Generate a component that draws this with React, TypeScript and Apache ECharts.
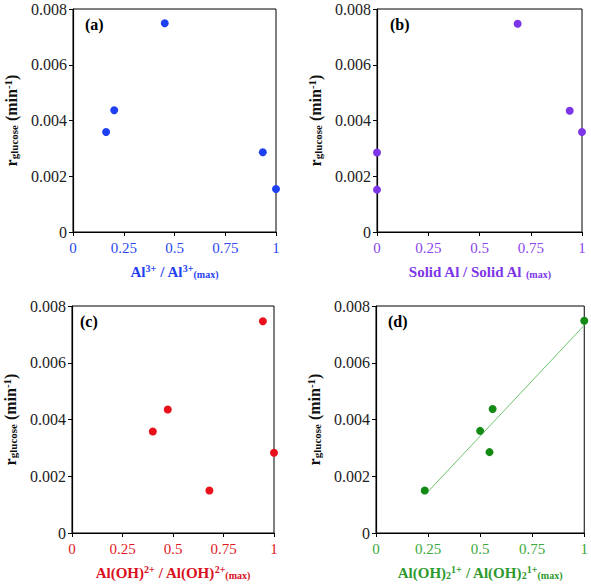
import React, { useEffect, useRef } from "react";
import * as echarts from "echarts";

// ---- data ----
const xTicks = [0, 0.25, 0.5, 0.75, 1];
const yTicks = [0, 0.002, 0.004, 0.006, 0.008];

const aX = [0.163, 0.203, 0.452, 0.935, 1.0];
const aY = [0.00359, 0.00437, 0.00749, 0.00286, 0.00154];

const bX = [0, 0, 0.686, 0.94, 1.0];
const bY = [0.00285, 0.00152, 0.00747, 0.00435, 0.00359];

const cX = [0.4, 0.474, 0.68, 0.945, 1.0];
const cY = [0.00358, 0.00435, 0.0015, 0.00746, 0.00283];

const dX = [0.234, 0.5, 0.545, 0.56, 1.0];
const dY = [0.0015, 0.0036, 0.00285, 0.00437, 0.00748];
const dTrendX = [0.24, 1.0];
const dTrendY = [0.00138, 0.00732];

const panelLabels = ["(a)", "(b)", "(c)", "(d)"];

const FONT = "Liberation Serif";

function richFor(color: string, base: number, small: number) {
  return {
    b: { fontFamily: FONT, fontSize: base, fontWeight: "bold", color, lineHeight: base + 1, verticalAlign: "bottom" },
    sup: { fontFamily: FONT, fontSize: small, fontWeight: "bold", color, lineHeight: small, verticalAlign: "top", padding: [0, 0, 6, 0] },
    sub: { fontFamily: FONT, fontSize: small, fontWeight: "bold", color, lineHeight: small, verticalAlign: "bottom", padding: [6, 0, 0, 0] },
  };
}

export default function App() {
  const ref = useRef<HTMLDivElement>(null);
  useEffect(() => {
    if (!ref.current) return;
    const chart = echarts.init(ref.current, null, { renderer: "svg" });

    const panels = [
      {
        xs: aX, ys: aY, color: "#1f3ff2", tickColor: "#2c48f0", dot: "#1f3ff2",
        grid: { left: 73, top: 9, width: 203, height: 223 },
        xName: "{b|Al}{sup|3+}{b| / Al}{sup|3+}{sub|(max)}",
        label: { x: 85, y: 16 },
      },
      {
        xs: bX, ys: bY, color: "#7d35e8", tickColor: "#8a45ee", dot: "#7d35e8",
        grid: { left: 377, top: 9, width: 205, height: 223 },
        xName: "{b|Solid Al / Solid Al }{sub|(max)}",
        label: { x: 390, y: 16 },
      },
      {
        xs: cX, ys: cY, color: "#d9101e", tickColor: "#e01826", dot: "#e8101a",
        grid: { left: 70, top: 306, width: 204, height: 227 },
        xName: "{b|Al(OH)}{sup|2+}{b| / Al(OH)}{sup|2+}{sub|(max)}",
        label: { x: 80, y: 313 },
      },
      {
        xs: dX, ys: dY, color: "#2c9a2c", tickColor: "#3aa83a", dot: "#138a13",
        grid: { left: 376, top: 306, width: 209, height: 227 },
        xName: "{b|Al(OH)}{sub|2}{sup|1+}{b| / Al(OH)}{sub|2}{sup|1+}{sub|(max)}",
        label: { x: 388, y: 313 },
      },
    ];

    const yName = "{b|r}{sub|glucose}{b| (min}{sup|-1}{b|)}";

    const grids: any[] = [];
    const xAxes: any[] = [];
    const yAxes: any[] = [];
    const series: any[] = [];
    const graphics: any[] = [];

    panels.forEach((p, i) => {
      grids.push({ ...p.grid, show: true, borderColor: "#000", borderWidth: 1, backgroundColor: "transparent" });
      xAxes.push({
        type: "value", gridIndex: i,
        min: xTicks[0], max: xTicks[xTicks.length - 1], interval: xTicks[1] - xTicks[0],
        axisLine: { show: true, onZero: false, lineStyle: { color: "#000", width: 1.2 } },
        axisTick: { show: true, inside: false, length: 4, lineStyle: { color: "#000" } },
        splitLine: { show: false },
        axisLabel: { color: p.tickColor, fontFamily: FONT, fontSize: 15, margin: 8 },
        name: p.xName, nameLocation: "middle", nameGap: 31,
        nameTextStyle: { rich: richFor(p.color, 15, 10) },
      });
      yAxes.push({
        type: "value", gridIndex: i,
        min: yTicks[0], max: yTicks[yTicks.length - 1], interval: yTicks[1] - yTicks[0],
        axisLine: { show: true, onZero: false, lineStyle: { color: "#000", width: 1.2 } },
        axisTick: { show: true, inside: false, length: 4, lineStyle: { color: "#000" } },
        splitLine: { show: false },
        axisLabel: { color: "#222", fontFamily: FONT, fontSize: 16, margin: 6 },
        name: yName, nameLocation: "middle", nameGap: 54, nameRotate: 90,
        nameTextStyle: { rich: richFor("#111", 16, 11) },
      });
      series.push({
        type: "scatter", xAxisIndex: i, yAxisIndex: i,
        data: p.xs.map((x, k) => [x, p.ys[k]]),
        symbol: "circle", symbolSize: 8, clip: false,
        itemStyle: { color: p.dot, opacity: 1 },
        z: 5,
      });
      graphics.push({
        type: "text", left: p.label.x, top: p.label.y,
        style: { text: panelLabels[i], fontFamily: FONT, fontSize: 16, fontWeight: "bold", fill: "#000" },
      });
    });

    series.push({
      type: "line", xAxisIndex: 3, yAxisIndex: 3,
      data: dTrendX.map((x, k) => [x, dTrendY[k]]),
      symbol: "none", lineStyle: { color: "#6cc46c", width: 1 }, z: 3,
    });

    chart.setOption({
      animation: false,
      backgroundColor: "#fff",
      textStyle: { fontFamily: FONT },
      grid: grids,
      xAxis: xAxes,
      yAxis: yAxes,
      series,
      graphic: graphics,
    });
    return () => chart.dispose();
  }, []);
  return <div ref={ref} style={{ width: 591, height: 585, position: "absolute", left: 0, top: 0 }} />;
}
